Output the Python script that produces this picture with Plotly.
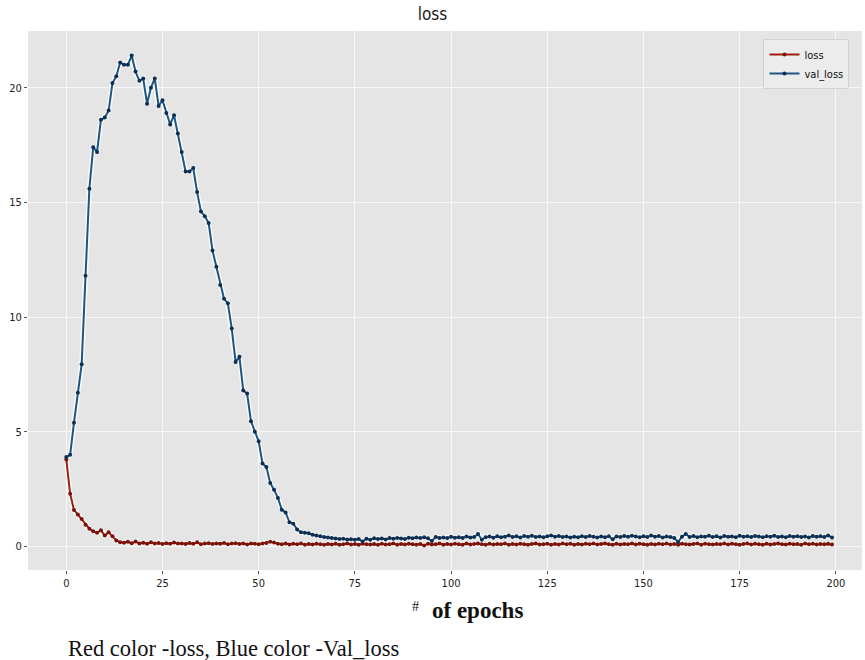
import plotly.graph_objects as go

epochs = list(range(200))

loss = [
    3.8, 2.3, 1.6, 1.4, 1.2, 0.95, 0.78, 0.67, 0.6, 0.71,
    0.48, 0.62, 0.45, 0.27, 0.19, 0.17, 0.21, 0.15, 0.22, 0.14,
    0.17, 0.12, 0.19, 0.13, 0.16, 0.11, 0.15, 0.12, 0.18, 0.13,
    0.14, 0.11, 0.16, 0.12, 0.19, 0.10, 0.13, 0.15, 0.11, 0.14,
    0.12, 0.16, 0.10, 0.13, 0.15, 0.11, 0.14, 0.09, 0.13, 0.12,
    0.10, 0.14, 0.16, 0.21, 0.18, 0.12, 0.10, 0.13, 0.09, 0.12,
    0.10, 0.13, 0.08, 0.11, 0.09, 0.12, 0.10, 0.08, 0.11, 0.09,
    0.12, 0.08, 0.10, 0.13, 0.09, 0.11, 0.08, 0.12, 0.10, 0.09,
    0.11, 0.08, 0.12, 0.09, 0.10, 0.13, 0.08, 0.11, 0.09, 0.12,
    0.10, 0.08, 0.11, 0.05, 0.12, 0.09, 0.10, 0.13, 0.08, 0.11,
    0.09, 0.12, 0.10, 0.08, 0.14, 0.09, 0.11, 0.13, 0.10, 0.08,
    0.12, 0.09, 0.11, 0.10, 0.13, 0.08, 0.11, 0.09, 0.12, 0.10,
    0.08, 0.11, 0.13, 0.09, 0.10, 0.12, 0.08, 0.11, 0.09, 0.13,
    0.10, 0.12, 0.08, 0.11, 0.09, 0.12, 0.10, 0.14, 0.09, 0.11,
    0.13, 0.10, 0.08, 0.12, 0.09, 0.11, 0.10, 0.13, 0.09, 0.12,
    0.10, 0.08, 0.11, 0.09, 0.12, 0.10, 0.13, 0.09, 0.11, 0.08,
    0.12, 0.10, 0.09, 0.11, 0.13, 0.08, 0.12, 0.10, 0.09, 0.11,
    0.10, 0.13, 0.09, 0.12, 0.10, 0.08, 0.11, 0.13, 0.09, 0.12,
    0.10, 0.08, 0.12, 0.09, 0.11, 0.13, 0.10, 0.09, 0.12, 0.10,
    0.11, 0.08, 0.13, 0.10, 0.12, 0.09, 0.11, 0.10, 0.12, 0.09,
]

val_loss = [
    3.9, 4.0, 5.4, 6.7, 7.95, 11.8, 15.6, 17.4, 17.2, 18.6,
    18.7, 19.0, 20.2, 20.5, 21.1, 21.0, 21.0, 21.4, 20.7, 20.3,
    20.4, 19.3, 20.0, 20.4, 19.2, 19.45, 18.9, 18.4, 18.8, 18.0,
    17.2, 16.35, 16.35, 16.5, 15.45, 14.6, 14.4, 14.1, 12.9, 12.2,
    11.4, 10.8, 10.6, 9.5, 8.05, 8.27, 6.8, 6.67, 5.46, 5.0,
    4.59, 3.62, 3.47, 2.77, 2.48, 2.12, 1.61, 1.49, 1.06, 1.0,
    0.74, 0.62, 0.6, 0.58, 0.52, 0.48,
    0.45, 0.42, 0.40, 0.37, 0.35, 0.33, 0.34, 0.31, 0.32, 0.30,
    0.33, 0.22, 0.34, 0.30, 0.36, 0.33, 0.35, 0.31, 0.37, 0.34,
    0.38, 0.35, 0.33, 0.39, 0.36, 0.40, 0.37, 0.41, 0.36, 0.24,
    0.42, 0.38, 0.40, 0.37, 0.43, 0.39, 0.41, 0.38, 0.44, 0.40,
    0.42, 0.55, 0.30, 0.41, 0.44, 0.39, 0.45, 0.41, 0.43, 0.48,
    0.42, 0.45, 0.40, 0.46, 0.43, 0.47, 0.42, 0.44, 0.41, 0.45,
    0.48, 0.43, 0.46, 0.42, 0.44, 0.40, 0.43, 0.41, 0.45, 0.42,
    0.46, 0.43, 0.40, 0.44, 0.41, 0.45, 0.32, 0.44, 0.42, 0.46,
    0.43, 0.47, 0.44, 0.41, 0.45, 0.42, 0.48, 0.43, 0.46, 0.40,
    0.44, 0.42, 0.38, 0.20, 0.43, 0.55, 0.42, 0.46, 0.41, 0.44,
    0.43, 0.47, 0.42, 0.45, 0.40, 0.46, 0.43, 0.44, 0.41, 0.47,
    0.43, 0.45, 0.42, 0.46, 0.44, 0.41, 0.45, 0.43, 0.47, 0.42,
    0.44, 0.41, 0.46, 0.43, 0.45, 0.42, 0.44, 0.40, 0.46, 0.43,
    0.45, 0.42, 0.48, 0.40,
]

x_ticks = [0, 25, 50, 75, 100, 125, 150, 175, 200]
y_ticks = [0, 5, 10, 15, 20]

RED = "#9E1E10"
RED_DARK = "#7A140A"
BLUE = "#1D5583"
BLUE_DARK = "#0F2F52"
TICK_FONT = "Liberation Sans Narrow, DejaVu Sans Condensed, Liberation Sans, Arial"
SERIF = "Liberation Serif, Times New Roman, serif"

fig = go.Figure()

# soft white halos under the lines
for series in (val_loss, loss):
    fig.add_trace(go.Scatter(
        x=epochs, y=series, mode="lines",
        line=dict(color="rgba(255,255,255,0.75)", width=5),
        showlegend=False, hoverinfo="skip",
    ))

fig.add_trace(go.Scatter(
    x=epochs, y=loss, mode="lines+markers", name="loss",
    line=dict(color=RED, width=2),
    marker=dict(color=RED_DARK, size=4),
))
fig.add_trace(go.Scatter(
    x=epochs, y=val_loss, mode="lines+markers", name="val_loss",
    line=dict(color=BLUE, width=2),
    marker=dict(color=BLUE_DARK, size=4),
))

fig.update_layout(
    width=865, height=660,
    margin=dict(l=28, r=3, t=31, b=90),
    paper_bgcolor="white",
    plot_bgcolor="#E5E5E5",
    title=dict(text="loss", x=0.5, xanchor="center", y=0.979, yanchor="middle",
               font=dict(family=TICK_FONT, size=17, color="#222222")),
    xaxis=dict(
        range=[-9.95, 206.8], tickvals=x_ticks, ticktext=[str(t) for t in x_ticks],
        showgrid=True, gridcolor="#F7F7F7", gridwidth=1.2, zeroline=False,
        ticks="outside", ticklen=3, tickcolor="#555555",
        tickfont=dict(family=TICK_FONT, size=11, color="#222222"),
        showline=False,
    ),
    yaxis=dict(
        range=[-1.02, 22.47], tickvals=y_ticks, ticktext=[str(t) for t in y_ticks],
        showgrid=True, gridcolor="#F7F7F7", gridwidth=1.2, zeroline=False,
        ticks="outside", ticklen=3, tickcolor="#555555",
        tickfont=dict(family=TICK_FONT, size=11, color="#222222"),
        showline=False,
    ),
    legend=dict(
        x=0.985, y=0.985, xanchor="right", yanchor="top",
        bgcolor="rgba(236,236,236,0.95)", bordercolor="#D2D2D2", borderwidth=1,
        font=dict(family=TICK_FONT, size=11, color="#111111"),
        itemwidth=30, tracegroupgap=2,
    ),
    showlegend=True,
)

fig.add_annotation(
    xref="paper", yref="paper", x=0.465, y=-0.067, xanchor="center", yanchor="middle",
    text="#", showarrow=False,
    font=dict(family=SERIF, size=14, color="#111111"),
)
fig.add_annotation(
    xref="paper", yref="paper", x=0.539, y=-0.076, xanchor="center", yanchor="middle",
    text="<b>of epochs</b>", showarrow=False,
    font=dict(family=SERIF, size=23, color="#111111"),
)

fig.add_annotation(
    xref="paper", yref="paper", x=0.046, y=-0.145, xanchor="left", yanchor="middle",
    text="Red color -loss, Blue color -Val_loss",
    showarrow=False,
    font=dict(family=SERIF, size=22.5, color="#111111"),
)

fig.write_html("out.html")
